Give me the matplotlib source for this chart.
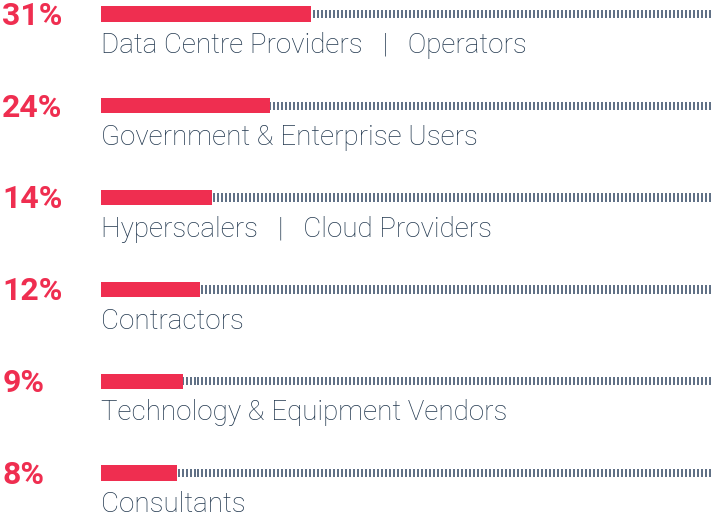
import numpy as np
import matplotlib
matplotlib.use("Agg")
import matplotlib.pyplot as plt

# Share of respondents by group
groups = ["Data Centre Providers   |   Operators",
          "Government & Enterprise Users",
          "Hyperscalers   |   Cloud Providers",
          "Contractors",
          "Technology & Equipment Vendors",
          "Consultants"]
shares = [31, 24, 14, 12, 9, 8]
pct_labels = [f"{s}%" for s in shares]

red = "#ef2e50"
navy = "#22384f"
tick_col = "#50627a"

fig = plt.figure(figsize=(7.15, 5.13), dpi=100)
ax = fig.add_axes([0, 0, 1, 1])
ax.set_xlim(-22.4, 100.3)
ax.set_ylim(5.436, -0.153)
ax.axis("off")

rows = np.arange(len(shares))
start = -5.1  # track starts a little before zero

# dotted track behind each bar
tick_x = np.arange(start + 0.3, 100.1, 0.686)
for r in rows:
    ax.vlines(tick_x, r - 0.045, r + 0.045, color=tick_col, linewidth=1.3, zorder=1)

# red bars
ax.barh(rows, np.array(shares) - start, left=start, height=0.165,
        color=red, zorder=2)

for r, lab, p in zip(rows, groups, pct_labels):
    ax.text(-22.0, r + 0.02, p, color=red, fontsize=23, fontweight="bold",
            family="Roboto", va="center", ha="left")
    ax.text(start, r + 0.345, lab, color=navy, fontsize=20, fontweight="light",
            family="Roboto", va="center", ha="left")

fig.savefig("out.png", dpi=100)
